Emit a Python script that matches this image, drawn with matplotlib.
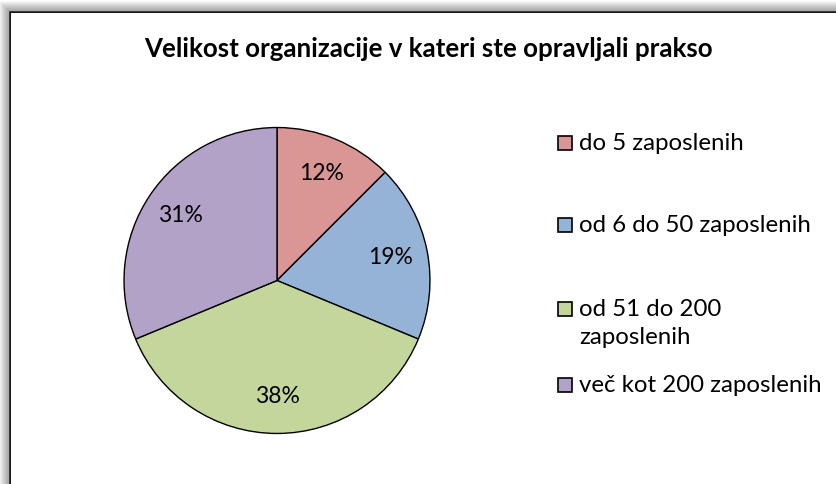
import numpy as np
import matplotlib.pyplot as plt
from matplotlib.patches import Rectangle

# podatki
kategorije = ['do 5 zaposlenih', 'od 6 do 50 zaposlenih',
              'od 51 do 200\nzaposlenih', 'več kot 200 zaposlenih']
odgovori = [4, 6, 12, 10]
barve = ['#D99694', '#95B3D7', '#C3D69B', '#B3A2C7']
naslov = 'Velikost organizacije v kateri ste opravljali prakso'

plt.rcParams['font.family'] = ['Lato', 'DejaVu Sans']

W, H = 836, 484
fig = plt.figure(figsize=(W / 100, H / 100), dpi=100)
fig.patch.set_facecolor('white')

def fx(x):
    return x / W

def fy(y):
    return 1 - y / H

# senca okvirja
for i in range(1, 11):
    fig.add_artist(Rectangle((fx(10 - i), fy(H + 30)), fx(W + 60), (H + 18 + i) / H,
                             transform=fig.transFigure, fill=False,
                             edgecolor='#707070', lw=1.2, alpha=0.5 * (1 - i / 11)))
# okvir
fig.add_artist(Rectangle((fx(10), fy(H + 30)), fx(W + 60), (H + 18) / H,
                         transform=fig.transFigure, facecolor='white',
                         edgecolor='black', lw=1.3, zorder=0))

fig.text(fx(428), fy(49), naslov, ha='center', va='center',
         fontsize=18.6, fontweight='bold')

# tortni diagram
r = 154.5
ax = fig.add_axes([fx(277 - r), (H - 280.5 - r) / H, 2 * r / W, 2 * r / H])
ax.pie(odgovori, colors=barve, startangle=90, counterclock=False,
       autopct='%.0f%%', pctdistance=0.76,
       wedgeprops=dict(edgecolor='black', linewidth=1),
       textprops=dict(fontsize=16.5, color='black'))
ax.set_xlim(-1.01, 1.01)
ax.set_ylim(-1.01, 1.01)

# legenda
vrstice = [143, 225, 309, 385]
for lab, c, y in zip(kategorije, barve, vrstice):
    fig.add_artist(Rectangle((fx(558), fy(y + 7)), 14 / W, 14 / H,
                             transform=fig.transFigure, facecolor=c,
                             edgecolor='black', lw=1.2))
    for j, vr in enumerate(lab.split('\n')):
        fig.text(fx(579), fy(y + 29 * j), vr, va='center', fontsize=17.3)

plt.savefig('out.png', dpi=100)
